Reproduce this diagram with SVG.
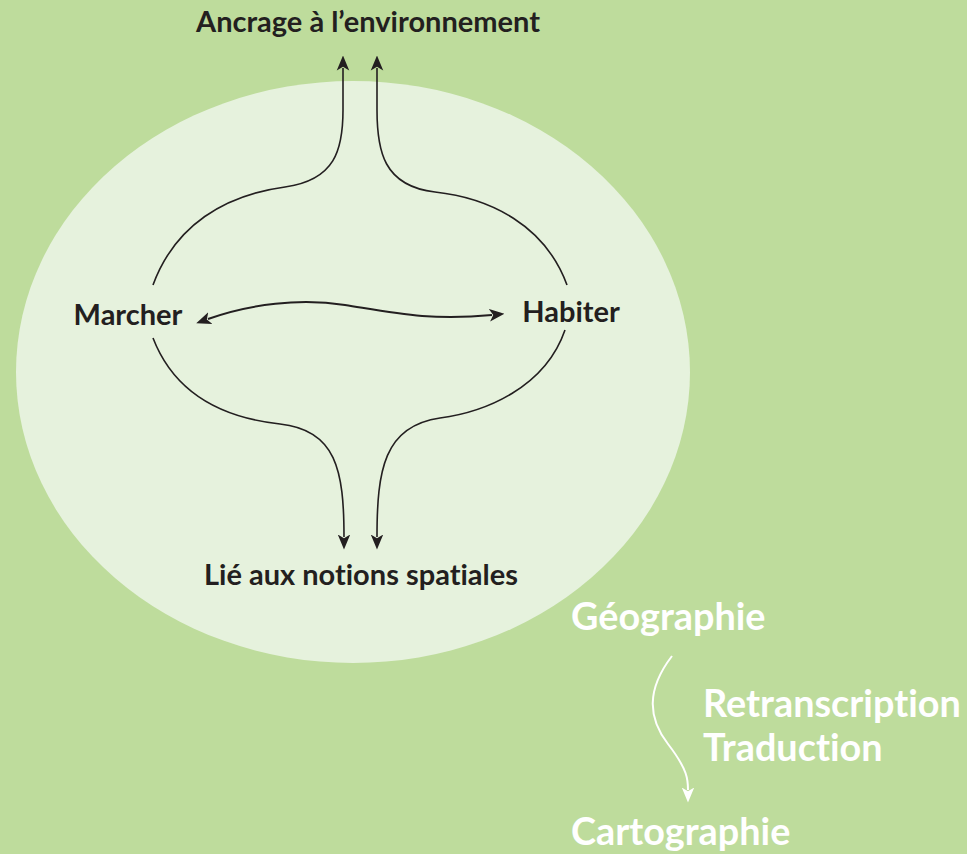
<svg xmlns="http://www.w3.org/2000/svg" width="967" height="854" viewBox="0 0 967 854">
<defs>
<style>
.lbl{font-family:Lato,"Open Sans","Liberation Sans",sans-serif;font-weight:bold;fill:#231f20;font-size:29px;font-variant-ligatures:none}
.wl{font-family:Lato,"Open Sans","Liberation Sans",sans-serif;font-weight:bold;fill:#ffffff;font-size:37.8px;font-variant-ligatures:none}
.c{fill:none;stroke:#231f20;stroke-width:1.6}
.w{fill:none;stroke:#ffffff;stroke-width:2}
</style>
<marker id="ah" viewBox="0 0 12 12" refX="2" refY="6" markerWidth="15" markerHeight="15" markerUnits="userSpaceOnUse" orient="auto-start-reverse">
<path d="M0,1 L12,6 L0,11 L3,6 Z" fill="#231f20"/>
</marker>
<marker id="ahw" viewBox="0 0 12 12" refX="2" refY="6" markerWidth="15" markerHeight="15" markerUnits="userSpaceOnUse" orient="auto">
<path d="M0,1 L12,6 L0,11 L3,6 Z" fill="#ffffff"/>
</marker>
</defs>
<rect width="967" height="854" fill="#bedc9c"/>
<ellipse id="cercle" cx="353" cy="372" rx="337" ry="291" fill="#e6f2dd"/>
<g id="connectors">
<path class="c" d="M153,285 C175,225 225,195 285,187 C335,180 343,150 343,110 L343,68" marker-end="url(#ah)"/>
<path class="c" d="M567,285 C545,225 490,198 435,192 C383,186 377,150 377,110 L377,68" marker-end="url(#ah)"/>
<path class="c" d="M153,338 C175,395 225,418 280,424 C336,430 344,470 344,537" marker-end="url(#ah)"/>
<path class="c" d="M565,330 C545,388 485,412 440,418 C384,426 377,470 377,537" marker-end="url(#ah)"/>
<path class="c" d="M208,319 C250,304 300,298 345,305 C395,313 430,321 492,315" marker-start="url(#ah)" marker-end="url(#ah)" style="stroke-width:2"/>
<path class="w" d="M672,656 C646,690 648,718 668,744 C688,770 688,780 688,790" marker-end="url(#ahw)"/>
</g>
<g id="n-ancrage"><text class="lbl" x="368" y="32" text-anchor="middle">Ancrage à l’environnement</text></g>
<g id="n-marcher"><text class="lbl" x="128" y="325" text-anchor="middle">Marcher</text></g>
<g id="n-habiter"><text class="lbl" x="571" y="322" text-anchor="middle">Habiter</text></g>
<g id="n-lie"><text class="lbl" x="361" y="585" text-anchor="middle">Lié aux notions spatiales</text></g>
<g id="n-geo"><text class="wl" x="571" y="630">Géographie</text></g>
<g id="n-retr"><text class="wl" x="703" y="717">Retranscription</text><text class="wl" x="703" y="761">Traduction</text></g>
<g id="n-carto"><text class="wl" x="571" y="845">Cartographie</text></g>
</svg>
